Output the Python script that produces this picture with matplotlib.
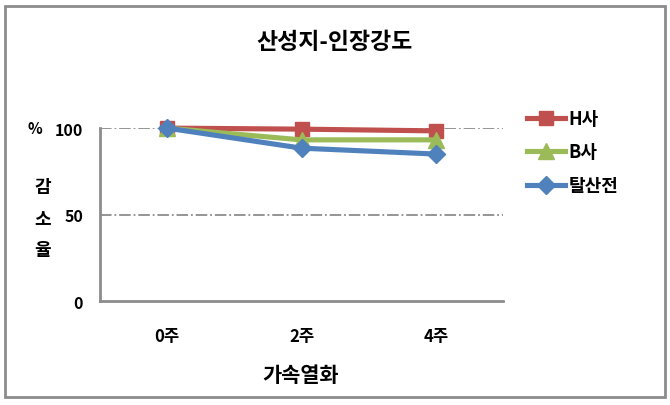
import matplotlib.pyplot as plt
from matplotlib.patches import Rectangle

plt.rcParams['font.family'] = ['Noto Sans CJK KR', 'DejaVu Sans']

weeks = ['0주', '2주', '4주']
h_sa = [100, 99.4, 98.4]
b_sa = [100, 93.2, 93.2]
talsan = [100, 88.4, 85]
series_names = ['H사', 'B사', '탈산전']
y_ticks = [0, 50, 100]

fig = plt.figure(figsize=(6.7, 4.06), dpi=100)
fig.patches.append(Rectangle((0.008, 0.02), 0.984, 0.962, transform=fig.transFigure,
                             fill=False, edgecolor='#8c8c8c', linewidth=2))
ax = fig.add_axes([0.149, 0.256, 0.602, 0.426])

x = range(len(weeks))
styles = [('#C0504D', 's', 10), ('#9BBB59', '^', 11), ('#4F81BD', 'D', 9)]
for vals, name, (c, m, ms) in zip([h_sa, b_sa, talsan], series_names, styles):
    ax.plot(x, vals, color=c, marker=m, markersize=ms, linewidth=3.7,
            label=name, clip_on=False)

ax.set_xlim(-0.5, 2.5)
ax.set_ylim(0, 100)
ax.set_yticks(y_ticks)
ax.set_yticklabels([str(v) for v in y_ticks], fontsize=11.5, fontweight='bold')
ax.set_xticks(list(x))
ax.set_xticklabels(weeks, fontsize=12, fontweight='bold')
ax.tick_params(length=0)
ax.tick_params(axis='y', pad=12)
ax.tick_params(axis='x', pad=19)

for v in [50, 100]:
    ax.axhline(v, color='#8c8c8c', linestyle='-.', linewidth=1.3, zorder=0)

for s in ['top', 'right']:
    ax.spines[s].set_visible(False)
for s in ['left', 'bottom']:
    ax.spines[s].set_color('#8c8c8c')
    ax.spines[s].set_linewidth(2)

fig.text(0.5, 0.895, '산성지-인장강도', ha='center', va='center', fontsize=16.5, fontweight='bold')
fig.text(0.052, 0.682, '%', ha='center', va='center', fontsize=11, fontweight='bold')
for i, ch in enumerate('감소율'):
    fig.text(0.064, 0.537 - i * 0.077, ch, ha='center', va='center', fontsize=13, fontweight='bold')
fig.text(0.448, 0.074, '가속열화', ha='center', va='center', fontsize=15, fontweight='bold')

ax.legend(loc='upper left', bbox_to_anchor=(0.787, 0.729), bbox_transform=fig.transFigure,
          frameon=False, prop={'weight': 'bold', 'size': 13}, handlelength=2.1,
          labelspacing=0.8, handletextpad=0.2, borderpad=0, borderaxespad=0)

fig.savefig('out.png', dpi=100)
